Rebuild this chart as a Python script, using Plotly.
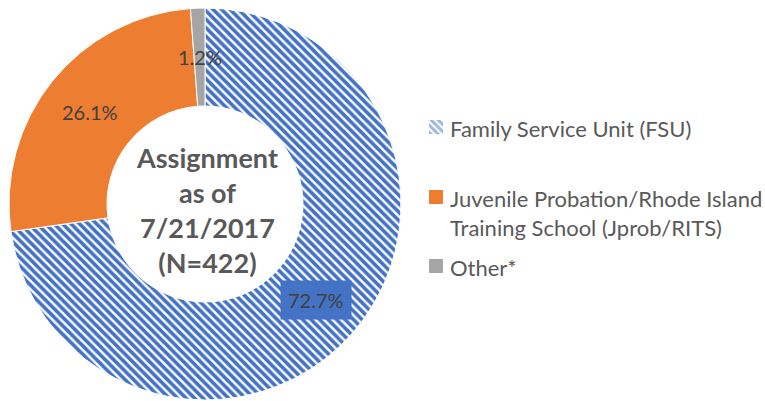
import math
import plotly.graph_objects as go

# Assignment counts (N = 422)
labels = ["Family Service Unit (FSU)",
          "Juvenile Probation/Rhode Island<br>Training School (Jprob/RITS)",
          "Other*"]
counts = [307, 110, 5]
colors = ["#4472C4", "#ED7D31", "#A5A5A5"]
center_title = ["Assignment", "as of", "7/21/2017", "(N=422)"]

W, H = 765, 401
CX, CY, R = 205, 204, 196          # donut centre and outer radius, px
HOLE = 0.5
FONT = "Lato, 'Open Sans', sans-serif"
TEXT_GREY = "#595959"
LABEL_GREY = "#404040"

def px(x):
    return x / W

def py(y):
    return 1 - y / H

hatch = dict(shape="\\", fgcolor=colors[0], bgcolor="white", size=6, solidity=0.6)

fig = go.Figure()
fig.add_trace(go.Pie(
    labels=labels, values=counts, sort=False, direction="clockwise", rotation=0,
    hole=HOLE, textinfo="none", showlegend=False, hoverinfo="label+percent",
    marker=dict(
        colors=colors,
        line=dict(color="white", width=1),
        pattern=dict(shape=["\\", "", ""], fgcolor=colors,
                     bgcolor=["white", colors[1], colors[2]],
                     size=6, solidity=0.6),
    ),
    domain=dict(x=[px(CX - R), px(CX + R)], y=[py(CY + R), py(CY - R)]),
))

annotations = []

# percentage labels at the middle of each ring segment
total = sum(counts)
r_mid = R * (1 + HOLE) / 2
cum = 0
for i, c in enumerate(counts):
    mid = (cum + c / 2) / total
    cum += c
    ang = 2 * math.pi * mid
    lx = CX + r_mid * math.sin(ang)
    ly = CY - r_mid * math.cos(ang)
    ann = dict(x=px(lx), y=py(ly), xref="paper", yref="paper",
               xanchor="center", yanchor="middle",
               text=f"{100 * c / total:.1f}%", showarrow=False,
               font=dict(family=FONT, size=20, color=LABEL_GREY))
    if i == 0:
        ann.update(bgcolor=colors[0], borderpad=7)
    annotations.append(ann)

# centre title
annotations.append(dict(
    x=px(207), y=py(210), xref="paper", yref="paper", showarrow=False,
    xanchor="center", yanchor="middle",
    text="<b>" + "<br>".join(center_title) + "</b>",
    font=dict(family=FONT, size=27, color=TEXT_GREY), align="center",
))

# legend: swatches and text
LEG_X0, LEG_SW = 429, 14
leg_rows = [127, 197, 266]          # centre of each entry's first line, px
LINE_H = 29

for i, (lab, yc) in enumerate(zip(labels, leg_rows)):
    y0, y1 = yc - LEG_SW / 2, yc + LEG_SW / 2
    fig.add_trace(go.Scatter(
        x=[LEG_X0, LEG_X0 + LEG_SW, LEG_X0 + LEG_SW, LEG_X0, LEG_X0],
        y=[y0, y0, y1, y1, y0], mode="lines", fill="toself",
        fillcolor=colors[i] if i else "white",
        fillpattern=dict(hatch, size=5) if i == 0 else None,
        line=dict(width=0), hoverinfo="skip", showlegend=False,
    ))
    annotations.append(dict(
        x=px(448), y=py(yc - LINE_H / 2), xref="paper", yref="paper",
        xanchor="left", yanchor="top", showarrow=False, align="left",
        text=lab, font=dict(family=FONT, size=22, color=TEXT_GREY),
    ))

fig.update_layout(
    width=W, height=H, margin=dict(l=0, r=0, t=0, b=0),
    paper_bgcolor="white", plot_bgcolor="white",
    xaxis=dict(range=[0, W], visible=False, fixedrange=True, domain=[0, 1]),
    yaxis=dict(range=[H, 0], visible=False, fixedrange=True, domain=[0, 1]),
    annotations=annotations, showlegend=False,
)

fig.write_html("out.html")
